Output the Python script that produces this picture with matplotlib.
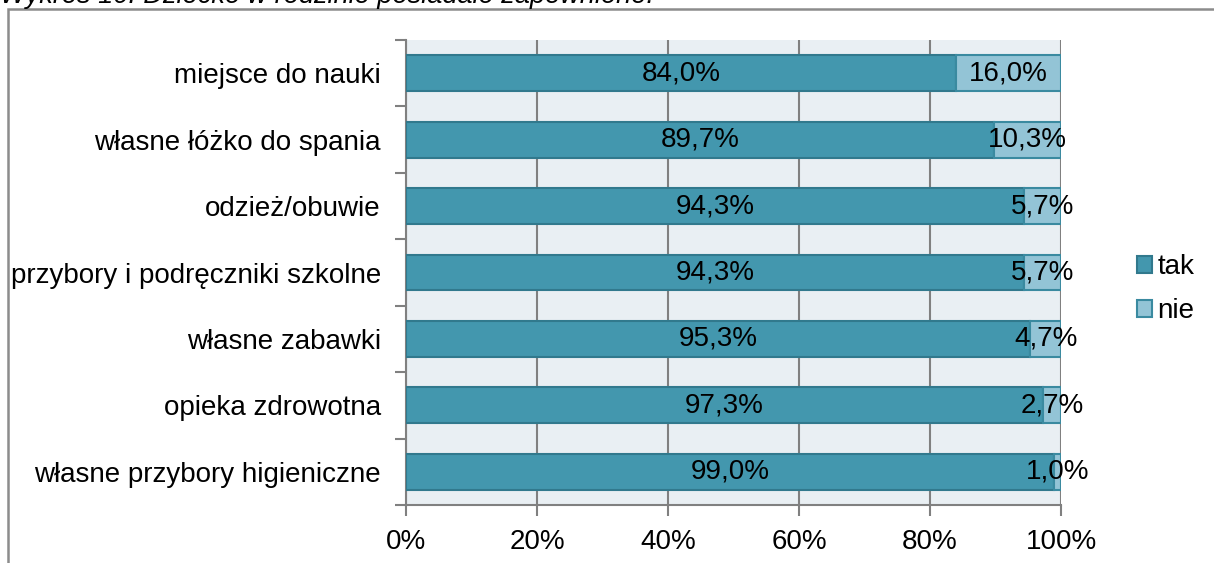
import matplotlib
matplotlib.use("Agg")
import matplotlib.pyplot as plt
from matplotlib.patches import Rectangle
from matplotlib.ticker import FixedLocator

# data
categories = ["miejsce do nauki", "własne łóżko do spania", "odzież/obuwie",
              "przybory i podręczniki szkolne", "własne zabawki",
              "opieka zdrowotna", "własne przybory higieniczne"]
tak = [84.0, 89.7, 94.3, 94.3, 95.3, 97.3, 99.0]
nie = [16.0, 10.3, 5.7, 5.7, 4.7, 2.7, 1.0]
xticks = [0, 20, 40, 60, 80, 100]
title = "Wykres 10. Dziecko w rodzinie posiadało zapewnione:"

plt.rcParams["font.family"] = ["Liberation Sans", "DejaVu Sans"]
FS = 20

W, H = 1214, 563
fig = plt.figure(figsize=(W / 100, H / 100), dpi=100)

# outer chart frame (cut by the image on the right and bottom)
fig.patches.append(Rectangle((8 / W, -0.1), 1.2, 1 - 9 / H + 0.1,
                             transform=fig.transFigure, fill=False,
                             edgecolor="#8c8c8c", linewidth=1.8))
# title of the source figure, cut off by the top edge like in the original
fig.text(0.0, 1 - 3 / H, title, fontsize=19.5, style="italic",
         va="baseline", ha="left")

ax = fig.add_axes([406 / W, 1 - 505 / H, (1061 - 406) / W, (505 - 40) / H])
ax.set_facecolor("#e9eff3")

y = range(len(categories))
b1 = ax.barh(y, tak, height=0.54, color="#4397ae", edgecolor="#31798d",
             linewidth=1.5, label="tak", zorder=3)
b2 = ax.barh(y, nie, left=tak, height=0.54, color="#93c4d6",
             edgecolor="#3a8aa0", linewidth=1.5, label="nie", zorder=3)

for i in y:
    ax.text(tak[i] / 2, i, f"{tak[i]:.1f}%".replace(".", ","),
            ha="center", va="center", fontsize=FS, zorder=4)
    ax.text(tak[i] + nie[i] / 2, i, f"{nie[i]:.1f}%".replace(".", ","),
            ha="center", va="center", fontsize=FS, zorder=4)

ax.set_xlim(0, 100)
ax.set_ylim(len(categories) - 0.5, -0.5)
ax.set_xticks(xticks)
ax.set_xticklabels([f"{t}%" for t in xticks], fontsize=FS)
ax.set_yticks(list(y))
ax.set_yticklabels(categories, fontsize=FS)
ax.yaxis.set_minor_locator(FixedLocator([i - 0.5 for i in range(len(categories) + 1)]))
ax.tick_params(axis="y", which="major", length=0, pad=18)
ax.tick_params(axis="y", which="minor", length=8, width=1.5, color="#808080")
ax.tick_params(axis="x", length=8, width=1.5, color="#808080", pad=9)
ax.grid(axis="x", color="#808080", linewidth=1.5, zorder=1)
ax.set_axisbelow(True)

for s in ["top", "right"]:
    ax.spines[s].set_visible(False)
for s in ["left", "bottom"]:
    ax.spines[s].set_color("#808080")
    ax.spines[s].set_linewidth(1.5)

fig.legend(handles=[b1, b2], labels=["tak", "nie"], loc="center left",
           bbox_to_anchor=(1134 / W, 1 - 289 / H), frameon=False,
           fontsize=FS, handlelength=0.55, handleheight=0.55,
           handletextpad=0.2, labelspacing=0.65, borderaxespad=0,
           borderpad=0.1)

fig.savefig("out.png", dpi=100)
